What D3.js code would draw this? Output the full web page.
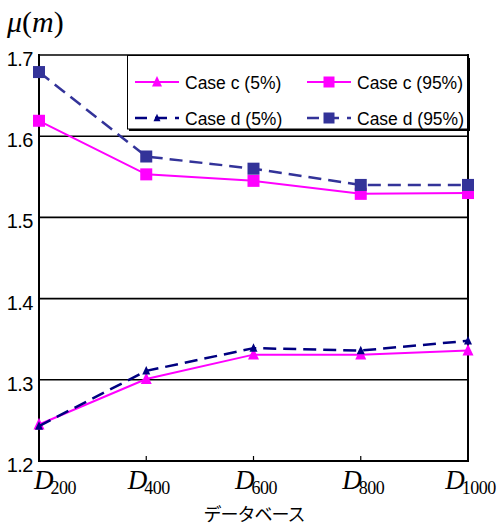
<!DOCTYPE html>
<html>
<head>
<meta charset="utf-8">
<script src="https://cdn.jsdelivr.net/npm/d3@7"></script>
<style>
  body { margin: 0; background: #fff; }
</style>
</head>
<body>
<div id="chart"></div>
<script>
// data
var databases = ["200", "400", "600", "800", "1000"];
var caseC5 = [1.245, 1.301, 1.331, 1.331, 1.336];
var caseC95 = [1.619, 1.553, 1.545, 1.529, 1.530];
var caseD5 = [1.243, 1.311, 1.339, 1.336, 1.348];
var caseD95 = [1.679, 1.575, 1.560, 1.540, 1.540];
var yTicks = [1.2, 1.3, 1.4, 1.5, 1.6, 1.7];

var series = [
  { name: "Case c (5%)", values: caseC5, color: "#ff00ff", dash: null, shape: "tri", size: 11, width: 2 },
  { name: "Case c (95%)", values: caseC95, color: "#ff00ff", dash: null, shape: "sq", size: 12, width: 2 },
  { name: "Case d (5%)", values: caseD5, color: "#000080", dash: "13,7", shape: "tri", size: 8, width: 2.5 },
  { name: "Case d (95%)", values: caseD95, color: "#333399", dash: "13,7", shape: "sq", size: 12, width: 2.5 }
];

function draw() {
  var w = 497, h = 526;
  var left = 39, right = 468, top = 55, bottom = 461;

  var svg = d3.select("#chart").append("svg")
    .attr("width", w)
    .attr("height", h);

  var x = d3.scalePoint().domain(databases).range([left, right]);
  var y = d3.scaleLinear().domain([1.2, 1.7]).range([bottom, top]);

  // grid lines
  svg.append("g")
    .selectAll("line")
    .data(yTicks)
    .enter()
    .append("line")
    .attr("x1", left).attr("x2", right)
    .attr("y1", function(d) { return y(d); })
    .attr("y2", function(d) { return y(d); })
    .attr("stroke", "#000")
    .attr("stroke-width", 1.6);

  // frame: left axis, right edge, bottom axis
  svg.append("line").attr("x1", left).attr("x2", left).attr("y1", top - 1).attr("y2", bottom + 1)
    .attr("stroke", "#000").attr("stroke-width", 2);
  svg.append("line").attr("x1", right).attr("x2", right).attr("y1", top - 1).attr("y2", bottom + 1)
    .attr("stroke", "#000").attr("stroke-width", 2);
  svg.append("line").attr("x1", left).attr("x2", right).attr("y1", bottom).attr("y2", bottom)
    .attr("stroke", "#000").attr("stroke-width", 2.2);

  // small ticks on bottom axis
  svg.append("g")
    .selectAll("line")
    .data(databases.slice(1, -1))
    .enter()
    .append("line")
    .attr("x1", function(d) { return x(d); })
    .attr("x2", function(d) { return x(d); })
    .attr("y1", bottom).attr("y2", bottom - 5)
    .attr("stroke", "#000").attr("stroke-width", 1.2);

  // y tick labels
  svg.append("g")
    .selectAll("text")
    .data(yTicks)
    .enter()
    .append("text")
    .attr("x", 33)
    .attr("y", function(d) { return y(d) + 11; })
    .attr("text-anchor", "end")
    .attr("font-family", "Liberation Sans, Arial, sans-serif")
    .attr("font-size", 20)
    .attr("letter-spacing", -0.5)
    .text(function(d) { return d.toFixed(1); });

  // x tick labels D with subscript
  var xl = svg.append("g")
    .selectAll("text")
    .data(databases)
    .enter()
    .append("text")
    .attr("y", 489)
    .attr("font-family", "Liberation Serif, Times New Roman, serif")
    .attr("fill", "#000");
  xl.append("tspan")
    .attr("font-style", "italic")
    .attr("font-size", 27)
    .text("D");
  xl.append("tspan")
    .attr("font-size", 18)
    .attr("dx", -3)
    .attr("dy", 5)
    .attr("letter-spacing", -0.5)
    .text(function(d) { return d; });
  xl.attr("x", function(d, i) {
    var len = this.getComputedTextLength();
    var cx = x(d) + 4;
    if (i === 0) return 34;
    return cx - len / 2;
  });

  // x axis title
  svg.append("text")
    .attr("x", 254)
    .attr("y", 521)
    .attr("text-anchor", "middle")
    .attr("font-family", "Noto Sans CJK JP, sans-serif")
    .attr("font-size", 18)
    .attr("letter-spacing", -1)
    .text("データベース");

  // y axis title mu(m)
  var yt = svg.append("text")
    .attr("x", 7)
    .attr("y", 32)
    .attr("font-family", "Liberation Serif, Times New Roman, serif")
    .attr("font-size", 30);
  yt.append("tspan").attr("font-style", "italic").text("μ");
  yt.append("tspan").text("(");
  yt.append("tspan").attr("font-style", "italic").text("m");
  yt.append("tspan").text(")");

  // lines
  var line = d3.line()
    .x(function(d, i) { return x(databases[i]); })
    .y(function(d) { return y(d); });

  function marker(g, s, cx, cy) {
    if (s.shape === "sq") {
      g.append("rect")
        .attr("x", cx - s.size / 2).attr("y", cy - s.size / 2)
        .attr("width", s.size).attr("height", s.size)
        .attr("fill", s.color);
    } else {
      var r = s.size;
      g.append("path")
        .attr("d", "M" + cx + "," + (cy - r * 0.6) + "L" + (cx + r / 2) + "," + (cy + r * 0.45) + "L" + (cx - r / 2) + "," + (cy + r * 0.45) + "Z")
        .attr("fill", s.color);
    }
  }

  series.forEach(function(s) {
    var g = svg.append("g");
    g.append("path")
      .datum(s.values)
      .attr("d", line)
      .attr("fill", "none")
      .attr("stroke", s.color)
      .attr("stroke-width", s.width)
      .attr("stroke-dasharray", s.dash);
    s.values.forEach(function(v, i) {
      marker(g, s, x(databases[i]), y(v));
    });
  });

  // legend
  var lg = svg.append("g");
  lg.append("rect")
    .attr("x", 129).attr("y", 58)
    .attr("width", 341).attr("height", 73)
    .attr("fill", "#000");
  lg.append("rect")
    .attr("x", 127.5).attr("y", 55.5)
    .attr("width", 340).attr("height", 73.5)
    .attr("fill", "#fff")
    .attr("stroke", "#000")
    .attr("stroke-width", 1);

  var legX = [135, 307];
  var legY = [82, 118];
  series.forEach(function(s, i) {
    var lx = legX[i % 2], ly = legY[Math.floor(i / 2)];
    var item = lg.append("g");
    item.append("line")
      .attr("x1", lx).attr("x2", lx + 44)
      .attr("y1", ly).attr("y2", ly)
      .attr("stroke", s.color)
      .attr("stroke-width", s.width)
      .attr("stroke-dasharray", s.dash ? "12,8" : null);
    marker(item, { shape: s.shape, size: s.shape === "sq" ? 11 : s.size - 1, color: s.color }, lx + 22, ly);
    item.append("text")
      .attr("x", lx + 50)
      .attr("y", ly + 7)
      .attr("font-family", "Liberation Sans, Arial, sans-serif")
      .attr("font-size", 17.5)
      .text(s.name);
  });
}

window.onload = draw;
</script>
</body>
</html>
